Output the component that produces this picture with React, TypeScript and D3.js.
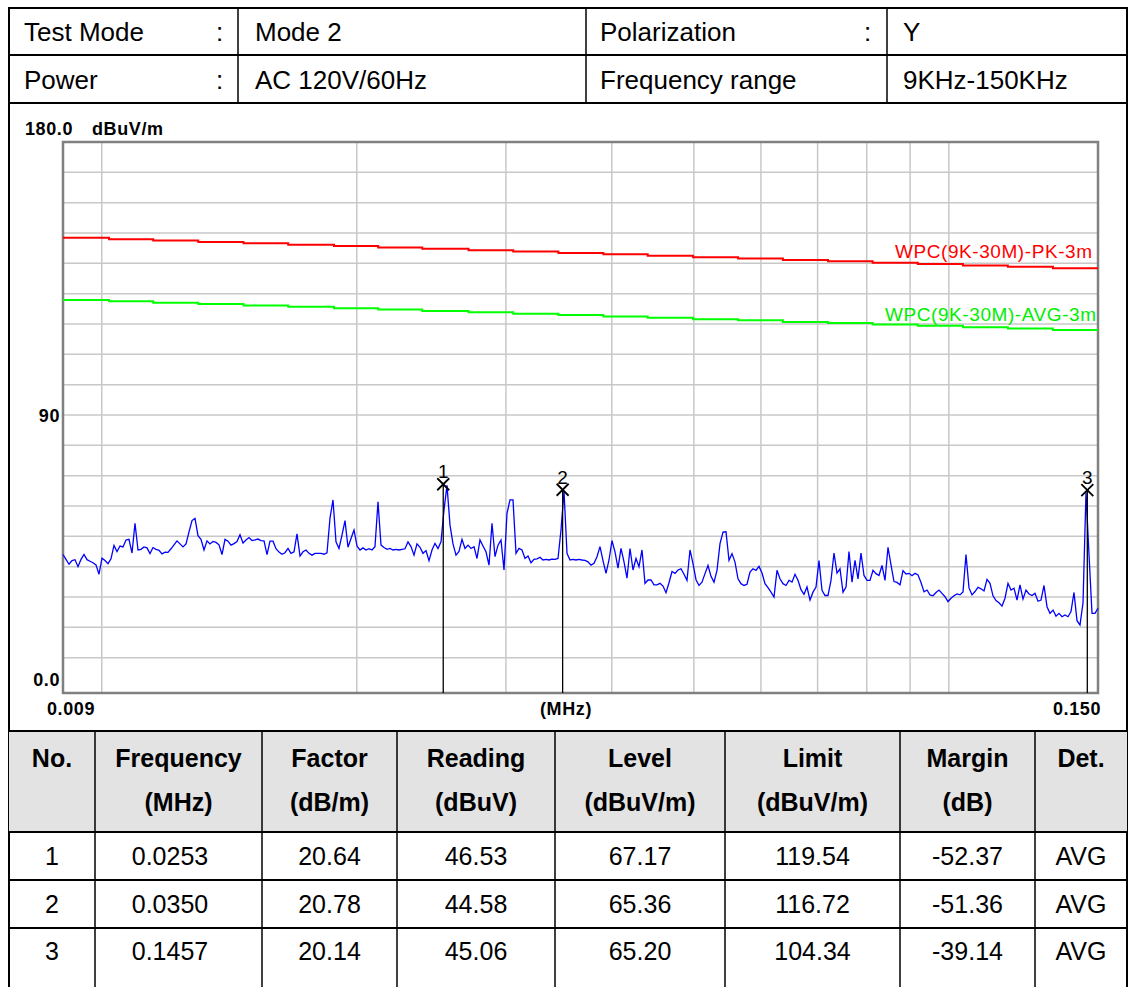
import React from 'react';
import * as d3 from 'd3';

// ---------- data ----------
const INFO_LABELS = ['Test Mode', 'Power'];
const INFO_VALUES = ['Mode 2', 'AC 120V/60Hz'];
const INFO_LABELS2 = ['Polarization', 'Frequency range'];
const INFO_VALUES2 = ['Y', '9KHz-150KHz'];
const INFO_COLON2 = [':', ''];

const Y_LABELS = [
  { v: 180, t: '180.0' },
  { v: 90, t: '90' },
  { v: 0, t: '0.0' },
];
const Y_UNIT = 'dBuV/m';
const X_LABELS = ['0.009', '(MHz)', '0.150'];
const GRID_FREQS = [0.01, 0.02, 0.03, 0.04, 0.05, 0.06, 0.07, 0.08, 0.09, 0.1];
const GRID_LEVELS = [10, 20, 30, 40, 50, 60, 70, 80, 90, 100, 110, 120, 130, 140, 150, 160, 170];

const LIMIT_FREQS = [
  0.009, 0.0102, 0.0115, 0.013, 0.0147, 0.0166, 0.0188, 0.0212, 0.0239, 0.0271, 0.0306, 0.0346,
  0.0391, 0.0441, 0.0499, 0.0564, 0.0637, 0.072, 0.0813, 0.0919, 0.1039, 0.1174, 0.1327, 0.15,
];
const PK_LIMIT = [
  148.4, 147.9, 147.5, 147.0, 146.6, 146.1, 145.7, 145.2, 144.8, 144.3, 143.9, 143.4,
  143.0, 142.5, 142.0, 141.6, 141.1, 140.7, 140.2, 139.8, 139.3, 138.9, 138.4,
];
const AVG_LIMIT = [
  127.9, 127.5, 127.0, 126.6, 126.1, 125.7, 125.2, 124.8, 124.3, 123.9, 123.4, 123.0,
  122.5, 122.1, 121.6, 121.2, 120.7, 120.3, 119.8, 119.4, 118.9, 118.5, 118.0,
];
const PK_LABEL = 'WPC(9K-30M)-PK-3m';
const AVG_LABEL = 'WPC(9K-30M)-AVG-3m';

const SWEEP_START = 0.009;
const SWEEP_STOP = 0.15;
// measured level (dBuV/m), log-spaced sweep points
const TRACE = [
  44.0, 42.4, 40.8, 42.0, 42.3, 40.0, 42.4, 44.0, 42.3, 41.8,
  41.3, 40.6, 37.5, 42.8, 42.0, 41.0, 42.6, 47.0, 45.0, 46.8,
  46.5, 48.8, 49.0, 44.5, 54.3, 45.5, 45.7, 46.5, 46.2, 44.3,
  46.3, 45.7, 45.4, 44.2, 44.8, 44.7, 45.9, 47.2, 48.5, 47.5,
  46.5, 47.5, 51.5, 55.2, 55.9, 50.2, 49.0, 45.5, 48.5, 47.5,
  48.3, 48.0, 47.2, 44.0, 49.0, 48.4, 47.1, 47.6, 48.3, 50.5,
  47.8, 48.8, 49.6, 48.6, 48.8, 49.1, 48.6, 48.5, 44.0, 48.4,
  48.4, 45.9, 44.8, 44.1, 44.6, 46.0, 44.4, 44.9, 50.8, 43.5,
  44.9, 45.5, 44.4, 43.8, 44.4, 44.4, 44.4, 44.1, 44.6, 56.0,
  62.0, 48.2, 46.0, 50.4, 55.2, 46.4, 49.3, 52.1, 46.8, 45.5,
  46.2, 45.5, 45.9, 45.5, 46.6, 61.4, 47.1, 46.3, 45.7, 46.0,
  45.5, 45.7, 45.5, 45.7, 45.9, 48.2, 46.6, 43.8, 47.5, 46.4,
  44.4, 45.3, 42.0, 45.5, 47.7, 46.0, 48.2, 58.7, 66.8, 53.7,
  47.5, 43.8, 45.0, 49.0, 46.0, 47.1, 46.0, 46.6,
  42.7, 48.8, 46.8, 44.9, 40.5, 54.3, 43.3, 47.1, 48.8, 38.9,
  57.6, 62.0, 62.0, 44.4, 46.0, 45.5, 42.7, 43.5, 41.3, 42.4,
  42.6, 43.1, 42.2, 42.4, 42.2, 42.5, 42.4, 42.7, 52.1, 65.0,
  44.4, 42.2, 42.4, 42.2, 42.4, 42.2, 42.1, 41.6, 40.5, 41.1,
  43.3, 46.6, 42.0, 37.8, 42.2, 48.6, 44.9, 39.5, 46.0, 41.6,
  36.2, 46.0, 38.9, 42.7, 40.0, 45.5, 34.5, 35.6, 35.6, 34.0,
  34.0, 34.5, 33.6, 31.4, 34.7, 38.4, 37.8, 38.9,
  39.3, 37.5, 35.5, 45.5, 41.0, 35.7, 33.8, 34.9, 37.7, 40.4,
  36.8, 34.9, 38.8, 47.6, 51.4, 51.5, 42.1, 44.3, 41.5, 36.0,
  34.4, 33.8, 34.2, 38.2, 39.3, 38.8, 40.1, 37.9, 34.4, 33.1,
  31.6, 30.0, 38.8, 36.0, 34.4, 33.8, 35.5, 34.9, 37.5, 35.5,
  32.4, 30.9, 33.3, 29.0, 31.6, 33.3, 42.0, 32.2, 30.5, 30.5,
  35.5, 44.5, 37.9, 39.3, 31.6, 33.3, 45.0, 34.9, 42.1, 36.0,
  44.5, 37.1, 35.5, 35.5, 38.8, 37.7, 37.1, 40.4, 35.5,
  46.4, 40.6, 35.1, 34.8, 34.0, 38.7, 37.6, 37.8, 37.0, 37.8,
  37.3, 34.8, 31.7, 32.3, 30.7, 30.4, 31.5, 32.3, 31.2, 30.1,
  28.5, 29.6, 30.4, 31.0, 30.7, 31.7, 44.0, 33.0, 30.7, 31.8,
  33.2, 32.7, 32.0, 35.8, 34.5, 30.4, 28.8, 28.1, 27.0, 29.6,
  34.5, 32.3, 32.9, 29.0, 34.0, 29.3, 32.3, 31.0, 30.5, 31.2,
  28.6, 29.0, 33.8, 26.8, 24.6, 25.7, 23.7, 24.6, 23.5, 24.1,
  23.5, 25.2, 31.5, 22.2, 20.8, 28.0, 64.5, 44.0, 24.6, 24.6,
  26.3,
];

const MARKER_NO = [1, 2, 3];
const MARKER_FREQ = [0.0253, 0.035, 0.1457];
const MARKER_FACTOR = [20.64, 20.78, 20.14];
const MARKER_READING = [46.53, 44.58, 45.06];
const MARKER_LEVEL = [67.17, 65.36, 65.2];
const MARKER_LIMIT = [119.54, 116.72, 104.34];
const MARKER_MARGIN = [-52.37, -51.36, -39.14];
const MARKER_DET = ['AVG', 'AVG', 'AVG'];

const HEAD_1 = ['No.', 'Frequency', 'Factor', 'Reading', 'Level', 'Limit', 'Margin', 'Det.'];
const HEAD_2 = ['', '(MHz)', '(dB/m)', '(dBuV)', '(dBuV/m)', '(dBuV/m)', '(dB)', ''];

// ---------- layout ----------
const W = 1129;
const H = 987;
const L = 9;
const R = 1127;
const PLOT = { x0: 63, x1: 1098, y0: 142, y1: 693, zero: 688 };
const COLS = [L, 95, 262, 397, 555, 725, 900, 1035, R];
const SANS = '"Liberation Sans", Arial, sans-serif';

export default function App() {
  const x = d3.scaleLog().domain([SWEEP_START, SWEEP_STOP]).range([PLOT.x0, PLOT.x1]);
  const y = d3.scaleLinear().domain([0, 180]).range([PLOT.zero, PLOT.y0]);

  const n = TRACE.length;
  const tracePts: [number, number][] = TRACE.map((v, i) => [
    SWEEP_START * Math.pow(SWEEP_STOP / SWEEP_START, i / (n - 1)),
    v,
  ]);
  const line = d3.line<[number, number]>().x((d) => x(d[0])).y((d) => y(d[1]));
  const stepLine = d3
    .line<[number, number]>()
    .x((d) => x(d[0]))
    .y((d) => y(d[1]))
    .curve(d3.curveStepAfter);
  const stepPts = (vals: number[]): [number, number][] => [
    ...vals.map((v, k) => [LIMIT_FREQS[k], v] as [number, number]),
    [LIMIT_FREQS[vals.length], vals[vals.length - 1]],
  ];

  const axisFont = { fontFamily: SANS, fontWeight: 700, fontSize: 18, letterSpacing: 0.6 } as const;

  const rowsY = [856, 904, 951];
  const cells = MARKER_NO.map((no, i) => [
    String(no),
    MARKER_FREQ[i].toFixed(4),
    MARKER_FACTOR[i].toFixed(2),
    MARKER_READING[i].toFixed(2),
    MARKER_LEVEL[i].toFixed(2),
    MARKER_LIMIT[i].toFixed(2),
    MARKER_MARGIN[i].toFixed(2),
    MARKER_DET[i],
  ]);
  const valueX = (c: number) => (c === 1 ? 170 : (COLS[c] + COLS[c + 1]) / 2);

  return (
    <svg
      width={W}
      height={H}
      viewBox={`0 0 ${W} ${H}`}
      style={{ position: 'absolute', left: 0, top: 0, background: '#fff' }}
    >
      <rect x={0} y={0} width={W} height={H} fill="#fff" />

      {/* ---- top info table ---- */}
      <g fontFamily={SANS} fontSize={26} fill="#000">
        {INFO_LABELS.map((t, r) => {
          const cy = r === 0 ? 32 : 80;
          return (
            <g key={t}>
              <text x={24} y={cy} dy="0.35em">{t}</text>
              <text x={216} y={cy} dy="0.35em">:</text>
              <text x={255} y={cy} dy="0.35em">{INFO_VALUES[r]}</text>
              <text x={600} y={cy} dy="0.35em">{INFO_LABELS2[r]}</text>
              <text x={864} y={cy} dy="0.35em">{INFO_COLON2[r]}</text>
              <text x={903} y={cy} dy="0.35em">{INFO_VALUES2[r]}</text>
            </g>
          );
        })}
      </g>
      <g stroke="#000" strokeWidth={2}>
        <line x1={L} x2={R} y1={8} y2={8} />
        <line x1={L} x2={R} y1={55} y2={55} />
        <line x1={L} x2={R} y1={103} y2={103} />
        {[238, 586, 887].map((cx) => (
          <line key={cx} x1={cx} x2={cx} y1={8} y2={103} strokeWidth={1.5} />
        ))}
        <line x1={L} x2={L} y1={7} y2={H + 5} />
        <line x1={R} x2={R} y1={7} y2={H + 5} />
      </g>

      {/* ---- chart ---- */}
      <g>
        {GRID_LEVELS.map((v) => (
          <line key={'h' + v} x1={PLOT.x0} x2={PLOT.x1} y1={y(v)} y2={y(v)} stroke="#c8c8c8" strokeWidth={1.5} />
        ))}
        {GRID_FREQS.map((f) => (
          <line key={'v' + f} x1={x(f)} x2={x(f)} y1={PLOT.y0} y2={PLOT.y1} stroke="#c8c8c8" strokeWidth={1.5} />
        ))}
        <rect
          x={PLOT.x0}
          y={PLOT.y0}
          width={PLOT.x1 - PLOT.x0}
          height={PLOT.y1 - PLOT.y0}
          fill="none"
          stroke="#808080"
          strokeWidth={2.5}
        />
        <path d={stepLine(stepPts(PK_LIMIT)) || ''} fill="none" stroke="#ff0000" strokeWidth={2} />
        <path d={stepLine(stepPts(AVG_LIMIT)) || ''} fill="none" stroke="#00ff00" strokeWidth={2} />
        <text
          x={1092}
          y={258}
          textAnchor="end"
          fontFamily={SANS}
          fontSize={19}
          fill="#ff0000"
          textLength={197}
          lengthAdjust="spacing"
        >
          {PK_LABEL}
        </text>
        <text
          x={1096}
          y={321}
          textAnchor="end"
          fontFamily={SANS}
          fontSize={19}
          fill="#00ee00"
          textLength={211}
          lengthAdjust="spacing"
        >
          {AVG_LABEL}
        </text>

        <path d={line(tracePts) || ''} fill="none" stroke="#0000ff" strokeWidth={1.3} />

        {MARKER_NO.map((no, i) => {
          const mx = x(MARKER_FREQ[i]);
          const my = y(MARKER_LEVEL[i]);
          return (
            <g key={no}>
              <line x1={mx} x2={mx} y1={my} y2={PLOT.y1} stroke="#000" strokeWidth={1.3} />
              <line x1={mx - 6} x2={mx + 6} y1={my - 6} y2={my + 6} stroke="#000" strokeWidth={1.8} />
              <line x1={mx - 6} x2={mx + 6} y1={my + 6} y2={my - 6} stroke="#000" strokeWidth={1.8} />
              <text x={mx} y={my - 6} textAnchor="middle" fontFamily={SANS} fontSize={19} fill="#000">
                {no}
              </text>
            </g>
          );
        })}

        <text x={25} y={135} {...axisFont}>{Y_LABELS[0].t}</text>
        <text x={92} y={135} {...axisFont}>{Y_UNIT}</text>
        <text x={60} y={422} textAnchor="end" {...axisFont}>{Y_LABELS[1].t}</text>
        <text x={60} y={686} textAnchor="end" {...axisFont}>{Y_LABELS[2].t}</text>
        <text x={47} y={715} {...axisFont}>{X_LABELS[0]}</text>
        <text x={566} y={715} textAnchor="middle" {...axisFont}>{X_LABELS[1]}</text>
        <text x={1101} y={715} textAnchor="end" {...axisFont}>{X_LABELS[2]}</text>
      </g>

      {/* ---- bottom result table ---- */}
      <rect x={L} y={731} width={R - L} height={101} fill="#e3e3e3" />
      <g fontFamily={SANS} fontSize={25} fill="#000">
        {HEAD_1.map((t, c) => {
          const cx = (COLS[c] + COLS[c + 1]) / 2;
          return (
            <g key={'hd' + c} fontWeight={700}>
              <text x={cx} y={758} dy="0.35em" textAnchor="middle">{t}</text>
              {HEAD_2[c] && (
                <text x={cx} y={802} dy="0.35em" textAnchor="middle">{HEAD_2[c]}</text>
              )}
            </g>
          );
        })}
        {cells.map((row, r) =>
          row.map((t, c) => (
            <text
              key={r + '-' + c}
              x={valueX(c)}
              y={rowsY[r]}
              dy="0.35em"
              textAnchor="middle"
            >
              {t}
            </text>
          ))
        )}
      </g>
      <g stroke="#000" strokeWidth={2}>
        {[731, 832, 880, 928].map((yy) => (
          <line key={yy} x1={L} x2={R} y1={yy} y2={yy} />
        ))}
        {COLS.slice(1, -1).map((cx) => (
          <line key={cx} x1={cx} x2={cx} y1={731} y2={H + 5} strokeWidth={1.5} />
        ))}
      </g>
    </svg>
  );
}
